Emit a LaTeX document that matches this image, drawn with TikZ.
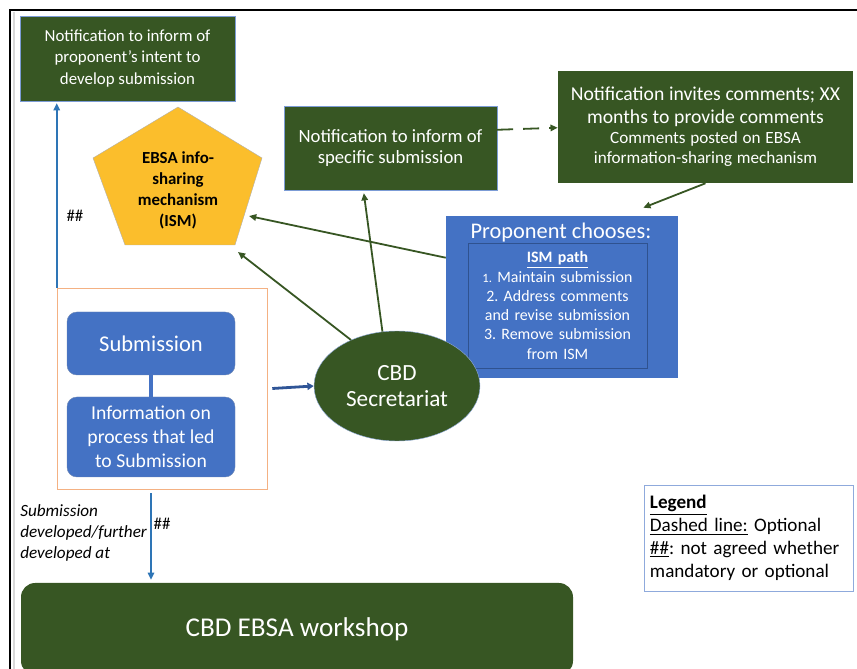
\documentclass[tikz,border=0pt]{standalone}
\usepackage{fontspec}
\setmainfont{Carlito}
\usepackage{tikz}
\usetikzlibrary{calc,arrows.meta,shapes.geometric}
\definecolor{cbdgreen}{HTML}{375623}
\definecolor{cbdblue}{HTML}{4472C4}
\definecolor{pathblue}{HTML}{2F528F}
\definecolor{ismyellow}{HTML}{FBBE2C}
\definecolor{linkblue}{HTML}{2E75B6}
\definecolor{darkblue}{HTML}{2F5597}
\definecolor{salmon}{HTML}{F4B183}
\definecolor{legendblue}{HTML}{8FAADC}
\def\unitpx{0.025cm}
\def\fsz#1#2{\fontsize{#1}{#2}\selectfont}
\frenchspacing

\tikzset{
  greenbox/.style={rectangle, fill=cbdgreen, text=white, align=center, inner sep=0pt},
  bluebox/.style={rectangle, rounded corners=7pt, fill=cbdblue, draw=pathblue!70, line width=0.3pt, text=white, align=center, inner sep=0pt},
  greenarrow/.style={draw=cbdgreen, line width=0.45mm, -{Triangle[length=1.8mm,width=1.6mm]}},
  bluearrow/.style={draw=linkblue, line width=0.55mm, -{Triangle[length=1.8mm,width=1.6mm]}},
}

\begin{document}
\begin{tikzpicture}[x=0.025cm, y=-0.025cm]
		%%%%% START %%%%%
		\useasboundingbox (0,0) rectangle (857,669);
		
		% frame
		\draw[black!15, line width=0.6mm] (14,12) -- (14,669);
		\draw[line width=0.5mm] (10,669) -- (10,10) -- (857,10);
		
		% notifications
		\node[greenbox, draw=cbdblue!70, line width=0.3pt, minimum width={215*\unitpx}, minimum height={85*\unitpx}, font=\fsz{12}{15}] (notif1) at (127.5,58.5) {Notification to inform of\\proponent’s intent to\\develop submission};
		\node[greenbox, draw=cbdblue!70, line width=0.3pt, minimum width={213*\unitpx}, minimum height={84*\unitpx}, font=\fsz{13.3}{15.5}] (spec) at (390.5,148) {Notification to inform of\\specific submission};
		\node[greenbox, minimum width={295*\unitpx}, minimum height={112*\unitpx}, text width=7.2cm] (comm) at (705.5,127) {{\fsz{14}{16.5}Notification invites comments; XX\\months to provide comments\par}{\fsz{12.2}{14.2}Comments posted on EBSA\\information-sharing mechanism\par}};
		
		% ISM pentagon
		\draw[fill=ismyellow, draw=black!30, line width=0.3pt] (178,107) -- (262,158) -- (235,245) -- (125,245) -- (93,158) -- cycle;
		\node[align=center, font=\bfseries\fsz{12}{15}] (ism) at (178,190) {EBSA info-\\sharing\\mechanism\\(ISM)};
		\coordinate (ismA) at (249,216);
		\coordinate (ismB) at (238,252);
		
		% proponent
		\node[rectangle, fill=cbdblue, minimum width={232*\unitpx}, minimum height={162*\unitpx}] (prop) at (562,297) {};
		\node[text=white, font=\fsz{15.9}{18}] (propT) at (561,233) {Proponent chooses:};
		\node[rectangle, draw=pathblue, line width=0.5pt, text=white, minimum width={179*\unitpx}, minimum height={125*\unitpx}, text width=4.4cm, align=center, inner sep=0pt, font=\fsz{11.3}{13.7}] (path) at (557.5,305.5) {\textbf{\underline{ISM path}}\\{\fsz{9}{13.7}1.} Maintain submission\\2. Address comments\\and revise submission\\3. Remove submission\\from ISM};
		
		% secretariat
		\node[ellipse, fill=cbdgreen, draw=cbdblue!60, line width=0.3pt, text=white, align=center, minimum width={166*\unitpx}, minimum height={110*\unitpx}, inner sep=0pt, font=\fsz{16.5}{18.5}] (secr) at (397,386) {CBD\\Secretariat};
		
		% submission group
		\draw[salmon, line width=0.4pt] (57,288) rectangle (267,489);
		\node[minimum width={210*\unitpx}, minimum height={201*\unitpx}] (grp) at (162,388.5) {};
		\node[bluebox, minimum width={168*\unitpx}, minimum height={63*\unitpx}, font=\fsz{16}{18}] (subm) at (151,343.5) {Submission};
		\node[bluebox, minimum width={168*\unitpx}, minimum height={80*\unitpx}, font=\fsz{14}{17}] (info) at (151,437) {Information on\\process that led\\to Submission};
		\draw[cbdblue, line width=0.8mm] (subm.south) -- (info.north);
		
		% workshop
		\node[greenbox, rounded corners=10pt, minimum width={552*\unitpx}, minimum height={92*\unitpx}, font=\fsz{19.3}{22}] (ws) at (297,629) {CBD EBSA workshop};
		
		% legend
		\node[rectangle, draw=legendblue, line width=0.5pt, minimum width={209*\unitpx}, minimum height={106*\unitpx}, text width=4.95cm, align=left, inner sep=0pt, font=\fsz{13.6}{16.3}] (legend) at (749,538) {\textbf{\underline{Legend}}\\\underline{Dashed line:} Optional\\\underline{\#\#}: not agreed whether\\mandatory or optional};
		
		% labels
		\node[font=\fsz{12}{14}] (hashA) at (75,216) {\#\#};
		\node[font=\fsz{12}{14}] (hashB) at (162,524) {\#\#};
		\node[anchor=west, align=left, inner sep=0pt, font=\itshape\fsz{12.2}{15}] (devlbl) at (20,533) {Submission\\developed/further\\developed at};
		
		% connectors
		\draw[greenarrow, dashed, dash pattern=on 4mm off 2.5mm] ($(spec.north east)+(0,24)$) -- ($(comm.north west)+(0,57)$);
		\draw[greenarrow] (comm.south) -- ($(prop.north east)+(-35,-8)$);
		\draw[greenarrow] ($(prop.north west)+(0,42)$) -- (ismA);
		\draw[greenarrow] (secr.135) -- (ismB);
		\draw[greenarrow] (secr.105) -- ($(spec.south west)!0.375!(spec.south east)+(0,3)$);
		\draw[draw=darkblue, line width=0.7mm, -{Triangle[length=1.6mm,width=1.8mm]}] ($(grp.east)+(5,0)$) -- (secr.west);
		\draw[bluearrow] (grp.north west) -- ($(grp.north west |- notif1.south)+(0,2)$);
		\draw[bluearrow] ($(grp.south -| info.south)+(0,4)$) -- ($(ws.north -| info.south)+(0,-3)$);
		
		%%%%% END %%%%%
\end{tikzpicture}
\end{document}
